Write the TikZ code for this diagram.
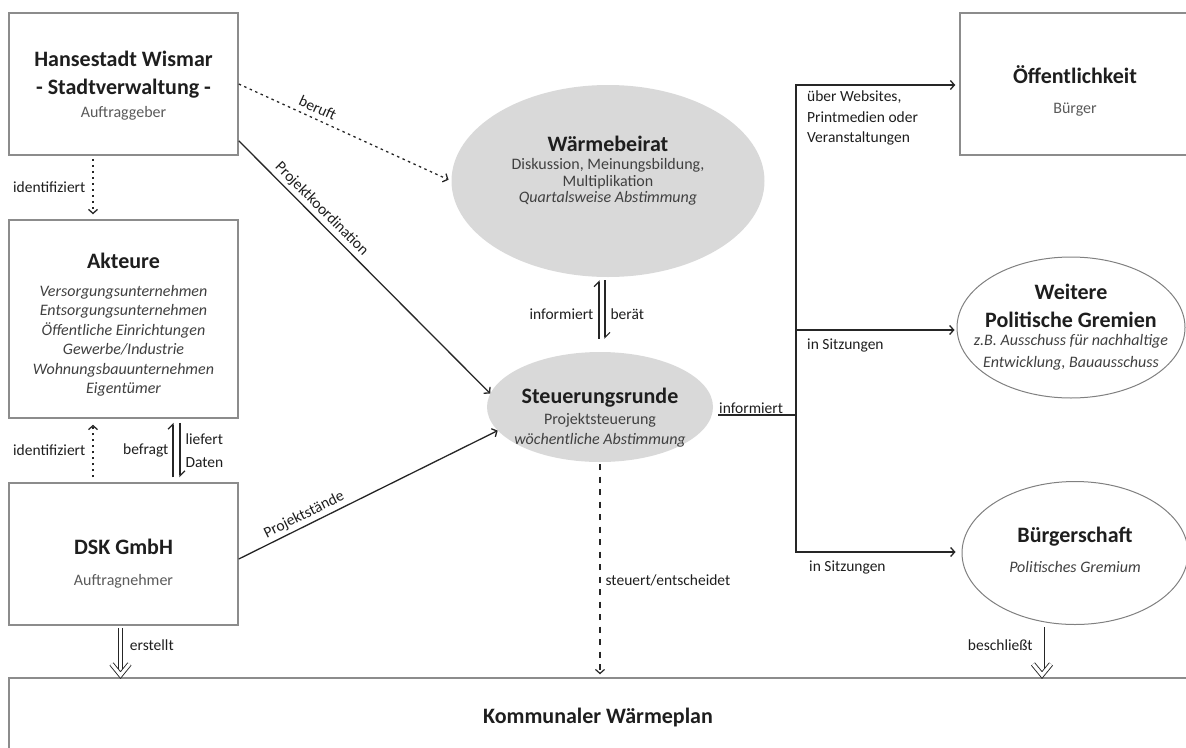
\documentclass[tikz,border=0pt]{standalone}
\usepackage{fontspec}
\setmainfont{Carlito}
\usetikzlibrary{arrows.meta,shapes.geometric}
\definecolor{boxgray}{HTML}{8C8C8C}
\definecolor{ellfill}{HTML}{D9D9D9}
\definecolor{ellline}{HTML}{808080}
\definecolor{subgray}{HTML}{5A5A5A}
\definecolor{itgray}{HTML}{404040}
\definecolor{ink}{HTML}{1E1E1E}
\definecolor{connc}{HTML}{262626}
\newcommand\ttlf{\fontsize{22}{26}\selectfont\bfseries}
\newcommand\subf{\fontsize{16}{19.5}\selectfont}
\newcommand\labf{\fontsize{15.5}{19}\selectfont}
\begin{document}
\begin{tikzpicture}[x=1pt,y=-1pt,
  box/.style={draw=boxgray, line width=1.5pt, fill=white, inner sep=0pt},
  ellg/.style={ellipse, fill=ellfill, inner sep=0pt},
  ellw/.style={ellipse, draw=ellline, line width=1pt, fill=white, inner sep=0pt},
  txt/.style={align=center, text=ink, font=\subf, inner sep=0pt},
  conn/.style={draw=connc, line width=1.3pt},
  arr/.style={conn, -{Straight Barb[length=4pt,width=9pt]}},
  dotarr/.style={arr, line width=1.3pt, dash pattern=on 2.5pt off 3.5pt},
  dasharr/.style={arr, line width=1.2pt, dash pattern=on 6pt off 6.5pt},
  harp/.style={conn, line width=1.2pt, -{Straight Barb[harpoon,length=5pt,width=10pt]}},
  dbl/.style={draw=connc, double=white, double distance=3.2pt, line width=0.9pt, line join=miter},
  lab/.style={font=\labf, text=ink, inner sep=0pt}
]
\useasboundingbox (0,0) rectangle (1186,747);
\clip (0,0) rectangle (1186,747);

% ---------- boxes ----------
\node[box, minimum width=229pt, minimum height=142pt] (hw) at (123.5,84) {};
\node[txt] (hwt) at (123.5,85.5)
  {{\ttlf Hansestadt Wismar}\\[8.5pt]{\ttlf - Stadtverwaltung -}\\[3pt]{\subf\color{subgray}Auftraggeber}};
\node[box, minimum width=229pt, minimum height=198pt] (ak) at (123.5,319) {};
\node[txt] (akt) at (123.5,324.5)
  {{\ttlf Akteure}\\[8.5pt]
   {\subf\itshape\color{itgray}Versorgungsunternehmen}\\
   {\subf\itshape\color{itgray}Entsorgungsunternehmen}\\
   {\subf\itshape\color{itgray}Öffentliche Einrichtungen}\\
   {\subf\itshape\color{itgray}Gewerbe/Industrie}\\
   {\subf\itshape\color{itgray}Wohnungsbauunternehmen}\\
   {\subf\itshape\color{itgray}Eigentümer}};
\node[box, minimum width=229pt, minimum height=142pt] (dsk) at (123.5,554) {};
\node[txt] (dskt) at (123.5,564)
  {{\ttlf DSK GmbH}\\[11.5pt]{\subf\color{subgray}Auftragnehmer}};
\node[box, minimum width=230pt, minimum height=142pt] (oe) at (1075,84) {};
\node[txt] (oet) at (1075,91)
  {{\ttlf Öffentlichkeit}\\[10.5pt]{\subf\color{subgray}Bürger}};
\node[box, minimum width=1182pt, minimum height=84pt] (plan) at (600,720) {};
\node[txt] (plant) at (598,718) {{\ttlf Kommunaler Wärmeplan}};

% ---------- ellipses ----------
\node[ellg, minimum width=313pt, minimum height=192pt] (wb) at (608,181) {};
\node[txt] (wbt) at (608,171)
  {{\ttlf Wärmebeirat}\\[-2pt]
   {\subf\color{itgray}Diskussion, Meinungsbildung,}\\[-2.5pt]
   {\subf\color{itgray}Multiplikation}\\[-3pt]
   {\subf\itshape\color{itgray}Quartalsweise Abstimmung}};
\node[ellg, minimum width=226pt, minimum height=110pt] (sr) at (600,407) {};
\node[txt] (srt) at (600,418)
  {{\ttlf Steuerungsrunde}\\[1.5pt]
   {\subf\color{itgray}Projektsteuerung}\\[0.5pt]
   {\subf\itshape\color{itgray}wöchentliche Abstimmung}};
\node[ellw, minimum width=228pt, minimum height=141pt] (wg) at (1071,327.5) {};
\node[txt] (wgt) at (1071,327.5)
  {{\ttlf Weitere}\\[8.5pt]{\ttlf Politische Gremien}\\[-1.5pt]
   {\subf\itshape\color{itgray}z.B. Ausschuss für nachhaltige}\\[2.5pt]
   {\subf\itshape\color{itgray}Entwicklung, Bauausschuss}};
\node[ellw, minimum width=226pt, minimum height=143pt] (bz) at (1075,553) {};
\node[txt] (bzt) at (1075,550)
  {{\ttlf Bürgerschaft}\\[10.5pt]{\subf\itshape\color{itgray}Politisches Gremium}};

% ---------- left column connectors ----------
\coordinate (idx) at (93,0);
\draw[dotarr, shorten <=3pt, shorten >=5pt] (idx |- hw.south) -- node[lab, left=7pt] (lid1) {identifiziert} (idx |- ak.north);
\draw[dotarr, shorten <=5pt, shorten >=6pt] (idx |- dsk.north) -- node[lab, left=7pt] (lid2) {identifiziert} (idx |- ak.south);

\coordinate (fL) at (173,0);
\coordinate (fR) at (180,0);
\draw[harp, shorten <=5pt, shorten >=4pt] (fL |- dsk.north) -- node[lab, left=4pt] (lbef) {befragt} (fL |- ak.south);
\draw[harp, shorten <=4pt, shorten >=5pt] (fR |- ak.south) -- node[lab, right=5pt, align=left] (llief) {liefert\\[4pt]Daten} (fR |- dsk.north);

\coordinate (ex) at (120.5,0);
\coordinate (etip) at (120.5,675);
\draw[dbl, shorten <=2pt, shorten >=3pt] (ex |- dsk.south) -- node[lab, right=9pt, pos=0.4] (lers) {erstellt} (etip);
\draw[dbl] ([shift={(-9,-11)}]etip) -- (etip) -- ([shift={(9,-11)}]etip);

% ---------- diagonal connectors ----------
\draw[dotarr, shorten >=3pt] (hw.east) -- node[lab, sloped, above=5pt, pos=0.35] (lber) {beruft} (wb.west);
\draw[arr] ([yshift=15pt]hw.south east) -- node[lab, sloped, above=3pt, pos=0.3] (lpk) {Projektkoordination} (sr.173);
\draw[arr] ([yshift=-5pt]dsk.east) -- node[lab, sloped, above=3pt, pos=0.27] (lps) {Projektstände} (sr.193);

% ---------- centre connectors ----------
\coordinate (hL) at (599,0);
\coordinate (hR) at (605,0);
\draw[harp, shorten <=13pt, shorten >=3pt] (hL |- sr.north) -- node[lab, left=5pt] (linf) {informiert} (hL |- wb.south);
\draw[harp, shorten <=3pt, shorten >=13pt] (hR |- wb.south) -- node[lab, right=5pt] (lbr) {berät} (hR |- sr.north);

\draw[dasharr, shorten <=2pt, shorten >=3pt] (sr.south) -- node[lab, pos=0.55, anchor=west, xshift=5pt] (lst) {steuert/entscheidet} (sr.south |- plan.north);

% ---------- right bus ----------
\coordinate (bt) at (796,85);
\coordinate (bm) at (796,330);
\coordinate (bj) at (796,415);
\coordinate (bb) at (796,552);
\draw[conn, shorten <=5pt] (sr.east |- bj) -- (bj);
\node[lab, anchor=south west] (linf2) at (719,413.5) {informiert};
\draw[conn, line cap=rect] (bt) -- (bb);
\draw[arr, shorten >=4pt] (bt) -- (bt -| oe.west);
\draw[arr, shorten >=2pt] (bm) -- (bm -| wg.west);
\draw[arr, shorten >=6pt] (bb) -- (bb -| bz.west);
\node[lab, anchor=north west, align=left] (lweb) at (807,91) {über Websites,\\[1.5pt]Printmedien oder\\[1.5pt]Veranstaltungen};
\node[lab, anchor=west] (lsi1) at (807,345) {in Sitzungen};
\node[lab, anchor=west] (lsi2) at (809,567) {in Sitzungen};

\coordinate (bx) at (1042,0);
\coordinate (btip) at (1042,675);
\draw[dbl, shorten <=2pt, shorten >=3pt] (bx |- bz.south) -- node[lab, left=9pt, pos=0.4] (lbes) {beschließt} (btip);
\draw[dbl] ([shift={(-9,-11)}]btip) -- (btip) -- ([shift={(9,-11)}]btip);
\end{tikzpicture}
\end{document}
